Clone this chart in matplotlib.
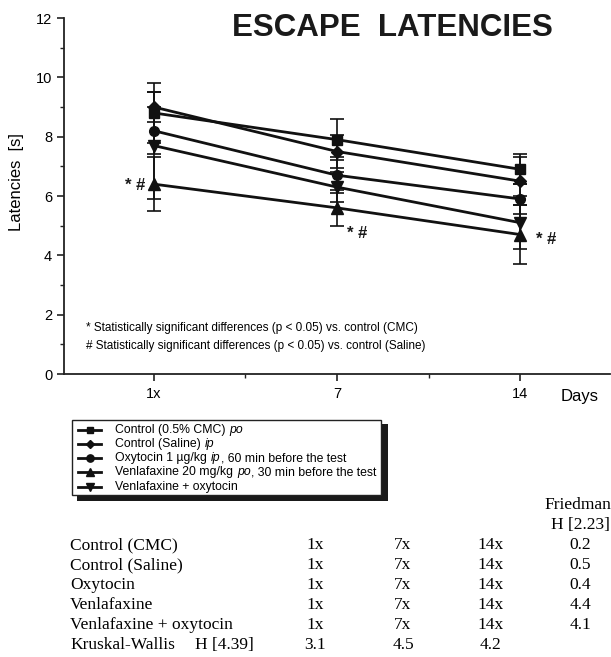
import matplotlib
matplotlib.use("Agg")
import matplotlib.pyplot as plt
from matplotlib.patches import Rectangle
from matplotlib.lines import Line2D

plt.rcParams['font.family'] = ['Liberation Sans', 'DejaVu Sans']

# ---------------- data ----------------
days = ["1x", "7", "14"]
# legend labels as (text, italic) segments
series_names = [
    [("Control (0.5% CMC)", False), ("po", True)],
    [("Control (Saline)", False), ("ip", True)],
    [("Oxytocin 1 µg/kg", False), ("ip", True), (", 60 min before the test", False)],
    [("Venlafaxine 20 mg/kg", False), ("po", True), (", 30 min before the test", False)],
    [("Venlafaxine + oxytocin", False)],
]
markers = ["s", "D", "o", "^", "v"]
cmc_mean = [8.8, 7.9, 6.9]
cmc_err = [1.0, 0.7, 0.5]
saline_mean = [9.0, 7.5, 6.5]
saline_err = [0.5, 0.55, 0.8]
oxy_mean = [8.2, 6.7, 5.9]
oxy_err = [0.8, 0.6, 0.5]
venla_mean = [6.4, 5.6, 4.7]
venla_err = [0.9, 0.6, 1.0]
vo_mean = [7.7, 6.3, 5.1]
vo_err = [1.8, 0.5, 0.9]
means = [cmc_mean, saline_mean, oxy_mean, venla_mean, vo_mean]
errs = [cmc_err, saline_err, oxy_err, venla_err, vo_err]

table_groups = ["Control (CMC)", "Control (Saline)", "Oxytocin", "Venlafaxine",
                "Venlafaxine + oxytocin"]
table_days = ["1x", "7x", "14x"]
friedman_h = ["0.2", "0.5", "0.4", "4.4", "4.1"]
kruskal_h = ["3.1", "4.5", "4.2"]

W, H = 611, 657
fig = plt.figure(figsize=(W / 100, H / 100), dpi=100)

def fx(px):
    return px / W

def fy(py):
    return 1 - py / H

ax = fig.add_axes([fx(64), fy(374), fx(610) - fx(64), fy(18) - fy(374)])
xpos = list(range(len(days)))
msizes = {"s": 6.5, "D": 6, "o": 7, "^": 8, "v": 8}
for m, e, mk in zip(means, errs, markers):
    ax.errorbar(xpos, m, yerr=e, fmt='-', marker=mk, color='#111111', lw=2,
                ms=msizes[mk], ecolor='#111111', elinewidth=1.2, capsize=5,
                capthick=1.2, zorder=3)

ax.set_xlim(-0.49, 2.49)
ax.set_ylim(0, 12)
ax.set_xticks(xpos)
ax.set_xticklabels(days, fontsize=10.5)
ax.set_xticks([0.5, 1.5], minor=True)
ax.set_yticks(range(0, 13, 2))
ax.set_yticks(range(1, 12, 2), minor=True)
ax.tick_params(axis='both', which='major', direction='out', length=5,
               width=1.2, labelsize=10.5, color='#222222')
ax.tick_params(axis='both', which='minor', direction='out', length=3,
               width=1.0, color='#222222')
ax.tick_params(axis='x', pad=4)
for s in ['top', 'right']:
    ax.spines[s].set_visible(False)
for s in ['left', 'bottom']:
    ax.spines[s].set_linewidth(1.3)
    ax.spines[s].set_color('#222222')

fig.text(fx(17), fy(182), "Latencies  [s]", rotation=90, ha='center',
         va='center', fontsize=12)
fig.text(fx(580), fy(397), "Days", ha='center', va='center', fontsize=12)
fig.text(fx(392), fy(28), "ESCAPE  LATENCIES", ha='center', va='center',
         fontsize=22.5, fontweight='bold', color='#1a1a1a')

ax.text(-0.37, 1.55, "* Statistically significant differences (p < 0.05) vs. control (CMC)",
        fontsize=8.5, va='center', ha='left')
ax.text(-0.37, 0.95, "# Statistically significant differences (p < 0.05) vs. control (Saline)",
        fontsize=8.5, va='center', ha='left')

for xi, yi, ha in [(-0.045, 6.37, 'right'), (1.057, 4.75, 'left'), (2.087, 4.52, 'left')]:
    ax.text(xi, yi, "* #", fontsize=12, fontweight='bold', ha=ha,
            va='center', color='#1a1a1a')

# ---------------- legend (manual) ----------------
bx0, by0, bx1, by1 = 72, 420, 381, 495
fig.patches.append(Rectangle((fx(bx0 + 5), fy(by1 + 6)), fx(bx1 + 7) - fx(bx0 + 5),
                             fy(by0 + 4) - fy(by1 + 6), transform=fig.transFigure,
                             facecolor='#1a1a1a', edgecolor='none', zorder=1))
fig.patches.append(Rectangle((fx(bx0), fy(by1)), fx(bx1) - fx(bx0), fy(by0) - fy(by1),
                             transform=fig.transFigure, facecolor='white',
                             edgecolor='#222222', lw=1.0, zorder=2))
renderer = fig.canvas.get_renderer()
lfs = 8.8
space_px = 3.6
for i, (segs, mk) in enumerate(zip(series_names, markers)):
    yy = 429.5 + i * 14.3
    fig.lines.append(Line2D([fx(78), fx(101)], [fy(yy), fy(yy)], transform=fig.transFigure,
                            color='#111111', lw=2, zorder=3))
    fig.lines.append(Line2D([fx(89.5)], [fy(yy)], transform=fig.transFigure,
                            marker=mk, ms=msizes[mk] * 0.75, color='#111111',
                            lw=0, zorder=4))
    xcur = 115.0
    for k, (seg, it) in enumerate(segs):
        if it or (k > 0 and not seg.startswith(",")):
            xcur += space_px
        t = fig.text(fx(xcur), fy(yy), seg, fontsize=lfs, va='center', ha='left',
                     style='italic' if it else 'normal', zorder=4)
        bb = t.get_window_extent(renderer=renderer)
        xcur += bb.width + 0.4

# ---------------- table ----------------
serif = ['Liberation Serif', 'DejaVu Serif']
tfs = 12.5
col_x = [315, 403, 491, 580]
row0 = 545.0
dy = 20.0
fig.text(fx(611), fy(505), "Friedman", fontsize=tfs, family=serif, ha='right', va='center')
fig.text(fx(col_x[3]), fy(525), "H [2.23]", fontsize=tfs, family=serif, ha='center', va='center')
for i, g in enumerate(table_groups):
    yy = row0 + i * dy
    fig.text(fx(70), fy(yy), g, fontsize=tfs, family=serif, ha='left', va='center')
    for j, d in enumerate(table_days):
        fig.text(fx(col_x[j]), fy(yy), d, fontsize=tfs, family=serif, ha='center', va='center')
    fig.text(fx(col_x[3]), fy(yy), friedman_h[i], fontsize=tfs, family=serif,
             ha='center', va='center')
yk = row0 + len(table_groups) * dy
fig.text(fx(70), fy(yk), "Kruskal-Wallis", fontsize=tfs, family=serif, ha='left', va='center')
fig.text(fx(195), fy(yk), "H [4.39]", fontsize=tfs, family=serif, ha='left', va='center')
for j, v in enumerate(kruskal_h):
    fig.text(fx(col_x[j]), fy(yk), v, fontsize=tfs, family=serif, ha='center', va='center')

fig.savefig("out.png", dpi=100)
